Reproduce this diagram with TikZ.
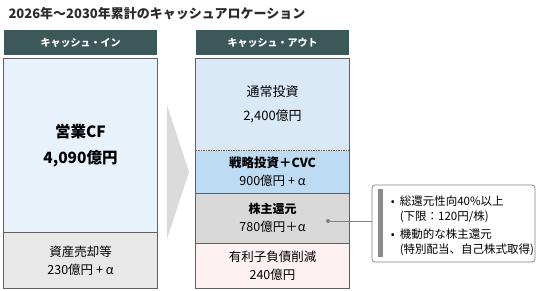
\documentclass[tikz,border=0pt]{standalone}
\usepackage{fontspec}
\setmainfont{Noto Sans CJK JP}
\usetikzlibrary{positioning}

\definecolor{titlegray}{HTML}{2B2B2B}
\definecolor{hdrteal}{HTML}{3D5859}
\definecolor{framegray}{HTML}{5F5F5F}
\definecolor{inblue}{HTML}{E8F2FB}
\definecolor{ingray}{HTML}{E8E8E8}
\definecolor{outblue}{HTML}{D9E9F8}
\definecolor{stratblue}{HTML}{BDDCF4}
\definecolor{sharegray}{HTML}{D9D9D9}
\definecolor{debtpink}{HTML}{FDF1F1}
\definecolor{chevgray}{HTML}{DADADA}
\definecolor{linegray}{HTML}{808080}
\definecolor{bargray}{HTML}{8C8C8C}

\begin{document}
\begin{tikzpicture}[
    x=1pt, y=-1pt,
    font=\fontsize{12.5}{18}\selectfont,
    hdr/.style={fill=hdrteal, text=white, font=\bfseries\fontsize{10}{11}\selectfont,
                minimum width=153pt, minimum height=25pt, inner sep=0pt},
    cell/.style={minimum width=153pt, inner sep=0pt, align=center},
    frame/.style={draw=framegray, line width=0.8pt},
    sep/.style={draw=framegray, line width=0.6pt},
    conn/.style={draw=linegray, line width=0.8pt},
  ]
  \useasboundingbox (0,0) rectangle (545,290);

  % title
  \node[anchor=west, text=titlegray, font=\bfseries\fontsize{13}{15}\selectfont] (title) at (5,14)
      {2026年～2030年累計のキャッシュアロケーション};

  % ===== LEFT COLUMN: cash in =====
  \node[hdr] (hdrin) at (80.5,42.5) {キャッシュ・イン};
  \node[cell, fill=inblue, minimum height=174pt, below=3pt of hdrin,
        font=\bfseries\fontsize{15.5}{26}\selectfont] (opcf) {営業CF\\4,090億円};
  \node[cell, fill=ingray, minimum height=55pt, below=0pt of opcf] (sale) {資産売却等\\230億円 + α};

  \draw[frame] (opcf.north west) rectangle (sale.south east);
  \draw[sep] (opcf.south west) -- (opcf.south east);

  % chevron between the columns
  \fill[chevgray] (167,105) -- (189,172) -- (167,239) -- cycle;

  % ===== RIGHT COLUMN: cash out =====
  \node[hdr] (hdrout) at (272.5,42.5) {キャッシュ・アウト};
  \node[cell, fill=outblue, minimum height=92pt, below=3pt of hdrout,
        font=\fontsize{13}{24}\selectfont] (capex) {通常投資\\2,400億円};
  \node[cell, fill=stratblue, minimum height=42pt, below=0pt of capex] (strat)
      {{\bfseries\fontsize{12.5}{18}\selectfont 戦略投資＋CVC}\\900億円 + α};
  \node[cell, fill=sharegray, minimum height=50pt, below=0pt of strat] (share)
      {{\bfseries\fontsize{12}{18}\selectfont 株主還元}\\780億円＋α};
  \node[cell, fill=debtpink, minimum height=45pt, below=0pt of share] (debt) {有利子負債削減\\240億円};

  \draw[frame] (capex.north west) rectangle (debt.south east);
  \draw[sep, dash pattern=on 1.5pt off 1pt] (capex.south west) -- (capex.south east);
  \draw[sep] (strat.south west) -- (strat.south east);
  \draw[sep] (share.south west) -- (share.south east);

  % ===== shareholder return note =====
  \node[circle, fill=linegray, inner sep=0pt, minimum size=4pt] (dot) at (328,221) {};
  \node[draw=linegray, rounded corners=3pt, line width=0.7pt,
        minimum width=163pt, minimum height=77pt] (note) at (453.5,223.5) {};
  \fill[bargray] ([xshift=6pt,yshift=-4pt]note.north west) rectangle ([xshift=11pt,yshift=5pt]note.south west);
  \node[anchor=west, inner sep=0pt, font=\fontsize{11.5}{15}\selectfont] (notetext) at ([xshift=19pt,yshift=-3pt]note.west)
      {\begin{tabular}{@{}l@{\hspace{5pt}}l@{}}
        • & 総還元性向40\%以上\\
          & (下限：120円/株)\\[3pt]
        • & 機動的な株主還元\\
          & (特別配当、自己株式取得)
       \end{tabular}};

  \draw[conn] (dot) -- (dot -| note.west);

\end{tikzpicture}
\end{document}
